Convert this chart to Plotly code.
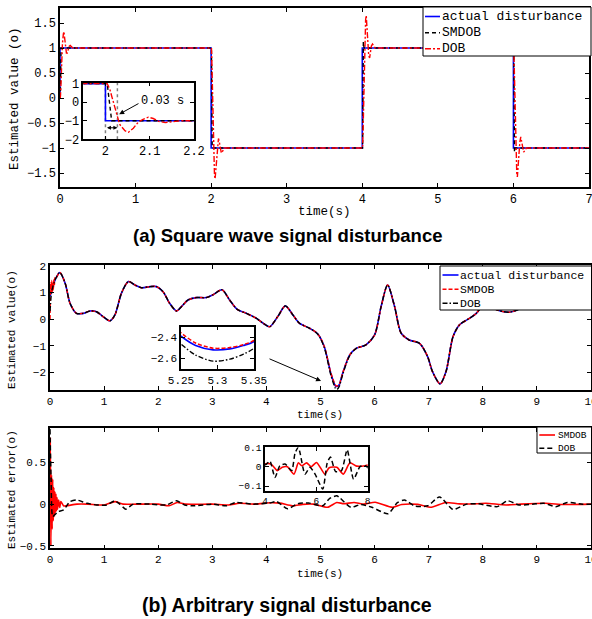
import plotly.graph_objects as go

W, H = 592, 619
MONO = "Liberation Mono"

# ---------------- (a) square wave disturbance ----------------
sq_names = ["actual disturbance", "SMDOB", "DOB"]
sq_actual_t = [0, 0, 2, 2, 4, 4, 6, 6, 7]
sq_actual_v = [0, 1, 1, -1, -1, 1, 1, -1, -1]
sq_smdob_t = [0, 0.004, 0.014, 2.0, 2.004, 2.014, 4.0, 4.004, 4.014, 4.024, 6.0, 6.004, 6.014, 6.024, 7.0]
sq_smdob_v = [0, 0, 1, 1, 1, -1, -1, -1, 1.12, 1, 1, 1, -1.08, -1, -1]
sq_dob_t = [0, 0.004, 0.01, 0.017, 0.025, 0.032, 0.044, 0.052, 0.063, 0.074, 0.085, 0.097, 0.108, 0.12, 0.135, 0.154, 0.17,
            2.0, 2.004, 2.01, 2.017, 2.025, 2.032, 2.044, 2.052, 2.063, 2.074, 2.085, 2.097, 2.108, 2.12, 2.135, 2.154, 2.17,
            4.0, 4.004, 4.01, 4.017, 4.025, 4.032, 4.044, 4.052, 4.063, 4.074, 4.085, 4.097, 4.108, 4.12, 4.135, 4.154, 4.17,
            6.0, 6.004, 6.01, 6.017, 6.025, 6.032, 6.044, 6.052, 6.063, 6.074, 6.085, 6.097, 6.108, 6.12, 6.135, 6.154, 6.17,
            7.0]
sq_dob_v = [0, 0, 0.16, 0.5, 0.82, 1.08, 1.28, 1.33, 1.18, 1.0, 0.9, 0.9, 0.96, 1.03, 1.05, 1.02, 1.0,
            1, 1, 0.68, 0.05, -0.65, -1.19, -1.54, -1.62, -1.4, -1.08, -0.92, -0.81, -0.88, -1.03, -1.1, -1.06, -1.0,
            -1, -1, -0.68, -0.05, 0.65, 1.19, 1.56, 1.65, 1.4, 1.05, 0.85, 0.8, 0.9, 1.04, 1.08, 1.04, 1.0,
            1, 1, 0.68, 0.05, -0.65, -1.19, -1.5, -1.58, -1.35, -1.05, -0.88, -0.78, -0.88, -1.03, -1.08, -1.05, -1.0,
            -1.0]
sq_xticks = [0, 1, 2, 3, 4, 5, 6, 7]
sq_yticks = [-1.5, -1, -0.5, 0, 0.5, 1, 1.5]
sq_inset_xticks = [2, 2.1, 2.2]
sq_inset_yticks = [-2, -1, 0, 1]

# ---------------- (b) arbitrary disturbance ----------------
arb_names = ["actual disturbance", "SMDOB", "DOB"]
arb_t = [0, 0.01, 0.02, 0.03, 0.04, 0.05, 0.06, 0.07, 0.08, 0.09, 0.1,
         0.18, 0.28, 0.37, 0.49, 0.62, 0.74, 0.86, 0.98, 1.11, 1.2,
         1.32, 1.45, 1.57, 1.69, 1.85, 1.97, 2.09, 2.21, 2.34, 2.43,
         2.55, 2.7, 2.89, 3.01, 3.18, 3.32, 3.46, 3.63, 3.81, 3.94,
         4.06, 4.21, 4.35, 4.49, 4.61,
         4.8, 4.95, 5.07, 5.19,
         5.25, 5.27, 5.294, 5.317, 5.335, 5.35,
         5.41, 5.54, 5.66, 5.84, 6.0, 6.12, 6.24, 6.37, 6.49, 6.64,
         6.83, 6.98, 7.07, 7.21, 7.32, 7.45, 7.57, 7.76, 7.88, 7.98,
         8.1, 8.24, 8.47, 8.66, 8.85, 9.1, 9.4, 9.7, 10.0]
arb_actual = [0.85, 0.92, 0.99, 1.06, 1.13, 1.2, 1.27, 1.33, 1.39, 1.45, 1.5,
              1.75, 1.35, 0.6, 0.22, 0.22, 0.31, 0.28, 0.1, -0.06, 0.16,
              0.97, 1.41, 1.28, 1.18, 1.22, 1.22, 1.03, 0.6, 0.31, 0.47,
              0.72, 0.81, 0.81, 0.91, 1.1, 0.72, 0.37, 0.22, 0.04, -0.15,
              -0.28, 0.1, 0.5, 0.16, -0.15,
              -0.34, -0.55, -1.03, -2.02,
              -2.39, -2.478, -2.519, -2.51, -2.478, -2.44,
              -2.02, -1.34, -1.09, -0.96, -0.59, 0.47, 1.28, 0.47, -0.52, -0.78,
              -0.9, -1.4, -1.96, -2.42, -1.96, -0.65, -0.21, 0.04, 0.22, 0.47,
              0.6, 0.37, 0.26, 0.37, 0.7, 1.0, 0.9, 0.7, 0.85]
arb_smdob = [0.0, 1.35, 0.95, 1.45, 1.0, 1.4, 1.1, 1.5, 1.25, 1.55, 1.5,
             1.75, 1.35, 0.6, 0.22, 0.22, 0.31, 0.28, 0.1, -0.06, 0.16,
             0.97, 1.41, 1.28, 1.18, 1.22, 1.22, 1.03, 0.6, 0.31, 0.47,
             0.72, 0.81, 0.81, 0.91, 1.1, 0.72, 0.37, 0.22, 0.04, -0.15,
             -0.28, 0.1, 0.5, 0.16, -0.15,
             -0.34, -0.55, -1.02, -2.0,
             -2.357, -2.454, -2.503, -2.497, -2.47, -2.43,
             -2.02, -1.34, -1.09, -0.96, -0.59, 0.47, 1.28, 0.47, -0.52, -0.78,
             -0.9, -1.4, -1.96, -2.42, -1.96, -0.65, -0.21, 0.04, 0.22, 0.47,
             0.6, 0.37, 0.26, 0.37, 0.7, 1.0, 0.9, 0.7, 0.85]
arb_dob = [0.3, 0.55, 0.85, 1.02, 1.12, 1.2, 1.27, 1.33, 1.39, 1.45, 1.5,
           1.75, 1.35, 0.6, 0.22, 0.22, 0.31, 0.28, 0.1, -0.06, 0.16,
           0.97, 1.41, 1.28, 1.18, 1.22, 1.22, 1.03, 0.6, 0.31, 0.47,
           0.72, 0.81, 0.81, 0.91, 1.1, 0.72, 0.37, 0.22, 0.04, -0.15,
           -0.28, 0.1, 0.5, 0.16, -0.15,
           -0.34, -0.56, -1.06, -2.08,
           -2.464, -2.568, -2.626, -2.607, -2.561, -2.503,
           -2.07, -1.36, -1.09, -0.96, -0.59, 0.47, 1.28, 0.47, -0.52, -0.78,
           -0.9, -1.4, -1.96, -2.42, -1.96, -0.65, -0.21, 0.04, 0.22, 0.47,
           0.6, 0.37, 0.26, 0.37, 0.7, 1.0, 0.9, 0.7, 0.85]
arb_xticks = [0, 1, 2, 3, 4, 5, 6, 7, 8, 9, 10]
arb_yticks = [-2, -1, 0, 1, 2]
arb_inset_xticks = [5.25, 5.3, 5.35]
arb_inset_yticks = [-2.6, -2.4]

# ---------------- (b) estimation error ----------------
err_names = ["SMDOB", "DOB"]
err_smdob_t = [0, 0.006, 0.016, 0.028, 0.04, 0.05, 0.06, 0.07, 0.08, 0.09,
               0.1, 0.11, 0.12, 0.13, 0.14, 0.16, 0.18, 0.2, 0.25, 0.3,
               0.5, 0.7, 1.0, 1.2, 1.35, 1.6, 2.0, 2.2, 2.35, 2.5,
               3.0, 3.3, 3.5, 3.8, 4.06, 4.25, 4.48, 4.67, 4.87, 5.13,
               5.3, 5.43, 5.62, 5.8, 6.01, 6.33, 6.5, 6.8, 7.05, 7.31,
               7.57, 7.9, 8.06, 8.43, 8.7, 9.16, 9.5, 10.0]
err_smdob_v = [0.0, 0.8, -0.5, 0.35, -0.3, 0.3, -0.2, 0.2, -0.15, 0.15,
               -0.1, 0.12, -0.08, 0.08, -0.06, 0.05, -0.04, 0.03, -0.02, -0.02,
               0.0, 0.0, -0.01, 0.03, 0.0, 0.0, 0.0, -0.02, 0.02, 0.0,
               0.0, -0.01, 0.01, 0.0, 0.016, 0.012, -0.02, -0.003, 0.0, -0.038,
               0.02, 0.005, 0.02, 0.0, 0.022, -0.038, -0.005, -0.003, -0.038, 0.02,
               0.003, 0.005, 0.01, -0.01, 0.0, 0.01, -0.005, 0.0]
err_dob_t = [0, 0.02, 0.05, 0.1, 0.15, 0.25, 0.37, 0.49, 0.68, 0.86,
             1.05, 1.2, 1.29, 1.4, 1.54, 1.85, 2.15, 2.34, 2.49, 2.64,
             3.01, 3.26, 3.44, 3.75, 4.06, 4.19, 4.39, 4.58, 4.78, 5.04,
             5.17, 5.3, 5.36, 5.56, 5.75, 5.95, 6.25, 6.42, 6.55, 6.75,
             6.98, 7.2, 7.45, 7.7, 7.9, 8.27, 8.46, 8.67, 8.92, 9.13,
             9.35, 9.56, 9.84, 10.0]
err_dob_v = [0.9, 0.3, -0.15, -0.12, -0.09, -0.07, 0.03, 0.05, 0.01, -0.01,
             -0.01, 0.04, 0.0, -0.06, 0.0, 0.0, -0.01, 0.04, -0.01, -0.02,
             0.0, -0.02, 0.02, 0.0, 0.014, 0.03, -0.055, 0.005, 0.014, -0.02,
             0.07, 0.1, 0.074, -0.038, -0.003, -0.038, -0.115, 0.018, 0.05, -0.025,
             -0.02, 0.087, -0.064, 0.0, 0.005, -0.03, 0.04, -0.01, 0.0, 0.01,
             -0.03, 0.02, 0.0, 0.0]
err_yticks = [-0.5, 0, 0.5]
err_inset_xticks = [4, 6, 8]
err_inset_yticks = [-0.1, 0, 0.1]

captions = ["(a) Square wave signal disturbance", "(b) Arbitrary signal disturbance"]

BLUE, RED, BLACK = "#0000FF", "#FF0000", "#000000"
# line styles per panel: (colour, dash, width)
sq_styles = [(BLUE, "solid", 1.6), (BLACK, "4px,3px", 1.4), (RED, "6px,2px,2px,2px", 1.4)]
arb_styles = [(BLUE, "solid", 1.6), (RED, "4px,2px", 1.5), (BLACK, "5px,2px,1.5px,2px", 1.4)]
err_styles = [(RED, "solid", 1.6), (BLACK, "5px,3px", 1.5)]


# ---------------- helpers ----------------
def dx(x0, x1):
    return [x0 / W, x1 / W]


def dy(y0, y1):
    return [1 - y1 / H, 1 - y0 / H]


def axis(domain, rng, tickvals, anchor, fsize=12):
    return dict(domain=domain, range=rng, tickvals=tickvals, anchor=anchor,
                showline=True, linecolor="black", linewidth=1.5, mirror="ticks",
                ticks="inside", ticklen=4, tickwidth=1, tickcolor="black",
                showgrid=False, zeroline=False, automargin=False,
                ticklabeloverflow="allow",
                tickfont=dict(family=MONO, size=fsize, color="black"))


fig = go.Figure()

# panel (a) main + inset
for xa, ya in [("x", "y"), ("x2", "y2")]:
    for (tt, vv), nm, (c, d, w) in zip([(sq_actual_t, sq_actual_v), (sq_smdob_t, sq_smdob_v), (sq_dob_t, sq_dob_v)],
                                       sq_names, sq_styles):
        fig.add_trace(go.Scatter(x=tt, y=vv, mode="lines", name=nm, showlegend=False,
                                 line=dict(color=c, width=w, dash=d), xaxis=xa, yaxis=ya))

# panel (b) arbitrary main + inset
for xa, ya in [("x3", "y3"), ("x4", "y4")]:
    for vv, nm, (c, d, w) in zip([arb_actual, arb_smdob, arb_dob], arb_names, arb_styles):
        fig.add_trace(go.Scatter(x=arb_t, y=vv, mode="lines", name=nm, showlegend=False,
                                 line=dict(color=c, width=w, dash=d, shape="spline", smoothing=0.8),
                                 xaxis=xa, yaxis=ya))

# panel (b) error main + inset
for xa, ya in [("x5", "y5"), ("x6", "y6")]:
    for (tt, vv), nm, (c, d, w) in zip([(err_smdob_t, err_smdob_v), (err_dob_t, err_dob_v)], err_names, err_styles):
        fig.add_trace(go.Scatter(x=tt, y=vv, mode="lines", name=nm, showlegend=False,
                                 line=dict(color=c, width=w, dash=d, shape="spline", smoothing=0.6),
                                 xaxis=xa, yaxis=ya))

fig.update_layout(
    width=W, height=H, autosize=False, margin=dict(l=0, r=0, t=0, b=0, pad=0),
    paper_bgcolor="white", plot_bgcolor="white",
    font=dict(family=MONO, color="black"),
    showlegend=False,
    xaxis=axis(dx(60, 589), [0, 7], sq_xticks, "y"),
    yaxis=axis(dy(8, 187), [-1.78, 1.8], sq_yticks, "x"),
    xaxis2=axis(dx(83.3, 194), [1.95, 2.2], sq_inset_xticks, "y2"),
    yaxis2=axis(dy(82.7, 139.3), [-2, 1.05], sq_inset_yticks, "x2"),
    xaxis3=axis(dx(50, 591), [0, 10], arb_xticks, "y3", 11),
    yaxis3=axis(dy(265, 390), [-2.65, 2.03], arb_yticks, "x3", 11),
    xaxis4=axis(dx(181, 254), [5.25, 5.35], arb_inset_xticks, "y4", 11),
    yaxis4=axis(dy(326.7, 369), [-2.7, -2.3], arb_inset_yticks, "x4", 11),
    xaxis5=axis(dx(50, 591), [0, 10], arb_xticks, "y5", 11),
    yaxis5=axis(dy(428.3, 548.3), [-0.53, 0.91], err_yticks, "x5", 11),
    xaxis6=axis(dx(265, 367.7), [4, 8], err_inset_xticks, "y6", 9.5),
    yaxis6=axis(dy(447.3, 491), [-0.125, 0.1], err_inset_yticks, "x6", 9.5),
)

# white backgrounds for insets (drawn inside the inset subplot layer)
shapes = [
    dict(type="rect", xref="x2", yref="y2", x0=1.95, x1=2.2, y0=-2, y1=1.05, layer="below",
         fillcolor="white", line=dict(width=0)),
    dict(type="line", xref="x2", yref="y2", x0=2.0, x1=2.0, y0=-2, y1=1.05, layer="below",
         line=dict(color="#808080", width=1.5, dash="dot")),
    dict(type="line", xref="x2", yref="y2", x0=2.027, x1=2.027, y0=-2, y1=1.05, layer="below",
         line=dict(color="#808080", width=1.5, dash="dot")),
    dict(type="rect", xref="x4", yref="y4", x0=5.25, x1=5.35, y0=-2.7, y1=-2.3, layer="below",
         fillcolor="white", line=dict(width=0)),
    dict(type="rect", xref="x6", yref="y6", x0=4, x1=8, y0=-0.125, y1=0.1, layer="below",
         fillcolor="white", line=dict(width=0)),
]


def ptext(text, x, y, size, angle=0, family=MONO, weight="normal", xanchor="center"):
    return dict(text=text, x=x / W, y=1 - y / H, xref="paper", yref="paper", showarrow=False,
                xanchor=xanchor, yanchor="middle", textangle=angle,
                font=dict(family=family, size=size, color="black", weight=weight))


annotations = [
    ptext("time(s)", 324, 212, 12.5),
    ptext("Estimated value (o)", 15, 99, 12.5, -90),
    ptext("time(s)", 320, 415, 11),
    ptext("Estimated value(o)", 12, 330, 11, -90),
    ptext("time(s)", 320, 574, 11),
    ptext("Estimated error(o)", 12, 490, 11, -90),
    ptext(captions[0], 287, 236, 18.5, family="Liberation Sans", weight="bold"),
    ptext(captions[1], 287, 605, 19.5, family="Liberation Sans", weight="bold"),
    # inset (a): 0.03 s note
    dict(text="0.03 s", x=2.129, y=0.05, xref="x2", yref="y2", showarrow=False,
         font=dict(family=MONO, size=12, color="black")),
    dict(text="", x=2.031, y=-0.65, ax=2.078, ay=-0.03, xref="x2", yref="y2",
         axref="x2", ayref="y2", showarrow=True, arrowhead=2, arrowsize=1, arrowwidth=1,
         arrowcolor="black"),
    dict(text="", x=2.027, y=-1.38, ax=2.0, ay=-1.38, xref="x2", yref="y2",
         axref="x2", ayref="y2", showarrow=True, arrowhead=2, startarrowhead=2,
         arrowside="end+start", arrowsize=0.8, arrowwidth=1, arrowcolor="black"),
    # panel (b) arrow pointing to minimum
    dict(text="", x=5.01, y=-2.31, ax=4.03, ay=-1.46, xref="x3", yref="y3",
         axref="x3", ayref="y3", showarrow=True, arrowhead=2, arrowsize=1, arrowwidth=1,
         arrowcolor="black"),
]


# legends drawn as boxed keys (box, line samples, labels)
def legend_box(x0, x1, y0, y1, names, styles, ycenters, sx0, sx1, tx, fsize):
    shapes.append(dict(type="rect", xref="paper", yref="paper", x0=x0 / W, x1=x1 / W,
                       y0=1 - y1 / H, y1=1 - y0 / H, layer="above", fillcolor="white",
                       line=dict(color="black", width=1)))
    for nm, (c, d, w), yc in zip(names, styles, ycenters):
        shapes.append(dict(type="line", xref="paper", yref="paper", x0=sx0 / W, x1=sx1 / W,
                           y0=1 - yc / H, y1=1 - yc / H, layer="above",
                           line=dict(color=c, width=w, dash=d)))
        annotations.append(ptext(nm, tx, yc, fsize, xanchor="left"))


legend_box(423, 591, 7, 56, sq_names, sq_styles, [16.5, 32.8, 48.8], 425, 440, 440, 13)
legend_box(440, 591.5, 266, 310, arb_names, arb_styles, [275, 289.3, 303.3], 442.5, 458.5, 458, 11.5)
legend_box(537, 591.5, 427, 453, err_names, err_styles, [435, 448.3], 539.3, 555, 555.5, 9.5)

fig.update_layout(shapes=shapes, annotations=annotations)

fig.write_html("out.html",
               config={"responsive": False, "displayModeBar": False},
               default_width="592px", default_height="619px",
               post_script="document.body.style.margin='0';document.body.style.overflow='hidden';")
